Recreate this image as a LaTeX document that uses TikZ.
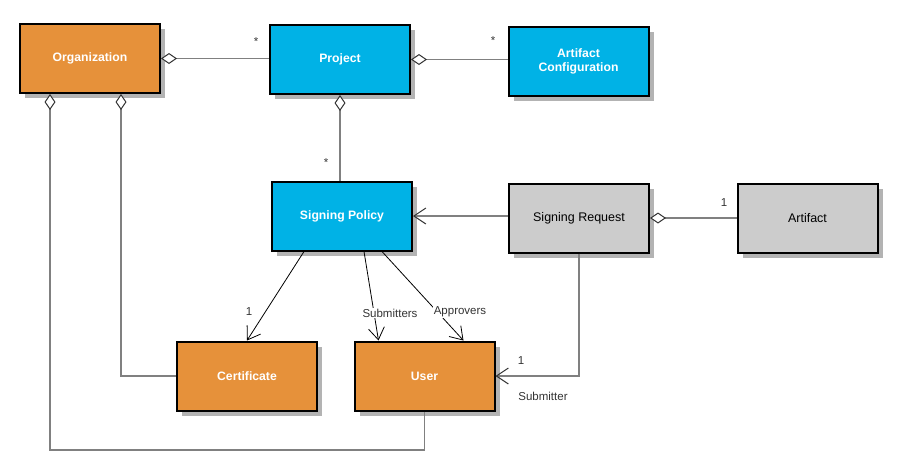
\documentclass[tikz,border=0pt]{standalone}
\usepackage{fontspec}
\setmainfont{Liberation Sans}
\usetikzlibrary{arrows.meta,shadows,calc}
\definecolor{orangebox}{RGB}{230,145,58}
\definecolor{bluebox}{RGB}{0,178,230}
\definecolor{graybox}{RGB}{204,204,204}
\definecolor{shadowgray}{RGB}{179,179,179}
\definecolor{linegray}{RGB}{128,128,128}
\definecolor{labelgray}{RGB}{51,51,51}
\tikzset{
  box/.style={draw=black, line width=2pt, minimum width=140pt, minimum height=69pt,
    inner sep=2pt, align=center, font=\fontsize{12.5}{14}\selectfont,
    general shadow={fill=shadowgray, shadow xshift=5pt, shadow yshift=-5pt}},
  orbox/.style={box, fill=orangebox, text=white, font=\fontsize{12.2}{14}\selectfont\bfseries},
  blbox/.style={box, fill=bluebox, text=white, font=\fontsize{12.2}{14}\selectfont\bfseries},
  grbox/.style={box, fill=graybox, text=black},
  assoc/.style={draw=linegray, line width=1.5pt},
  agg/.style={assoc, {Diamond[open, fill=white, length=16pt, width=11pt, line width=1pt, color=black!80]}-},
  navarr/.style={draw=black, line width=0.8pt, -{Straight Barb[length=12pt, width=16pt, line width=0.8pt]}},
  navgray/.style={assoc, -{Straight Barb[length=12pt, width=16pt, line width=1pt, color=black!80]}},
  lbl/.style={font=\fontsize{11.5}{13}\selectfont, text=labelgray, inner sep=1pt},
  lblw/.style={lbl, fill=white},
}
\begin{document}
\begin{tikzpicture}[x=1pt, y=-1pt]
\useasboundingbox (0,0) rectangle (898,475);
\node[orbox] (org) at (90,58.5) {Organization};
\node[blbox] (proj) at (340,59.5) {Project};
\node[blbox] (ac) at (578.5,61) {Artifact\\Configuration};
\node[blbox] (sp) at (342,216) {Signing Policy};
\node[grbox] (sr) at (579,218) {Signing Request};
\node[grbox] (art) at (807.5,218.5) {Artifact};
\node[orbox] (cert) at (247,376) {Certificate};
\node[orbox] (user) at (424.5,376) {User};

\coordinate (c1) at (50,450);
\coordinate (c2) at (121,0);

\draw[agg] (org.east) -- (org.east -| proj.west);
\draw[agg] (proj.east) -- (proj.east -| ac.west);
\draw[agg] (proj.south) -- (proj.south |- sp.north);
\draw[agg] (org.south -| c1) -- (c1) -| (user.south);
\draw[agg] (org.south -| c2) |- (cert.west);
\draw[agg] (sr.east) -- (sr.east -| art.west);
\draw[navgray] (sp.east -| sr.west) -- (sp.east);
\draw[navgray] (sr.south) |- (user.east);

\draw[navarr] ($(sp.south west)+(33,0)$) -- (cert.north);
\draw[navarr] ($(sp.south west)+(93,0)$) -- ($(user.north west)+(25,0)$);
\draw[navarr] ($(sp.south west)+(111,0)$) -- ($(user.north west)+(110,0)$);

\node[lbl] (s1) at (256,42) {*};
\node[lbl] (s2) at (493,41) {*};
\node[lbl] (s3) at (326,163) {*};
\node[lbl] (o1) at (249,312) {1};
\node[lblw] (subs) at (390,313) {Submitters};
\node[lblw] (apps) at (460,312) {Approvers};
\node[lbl] (o2) at (521,361) {1};
\node[lbl] (subm) at (543,396) {Submitter};
\node[lbl] (o3) at (724,203) {1};
\end{tikzpicture}
\end{document}
